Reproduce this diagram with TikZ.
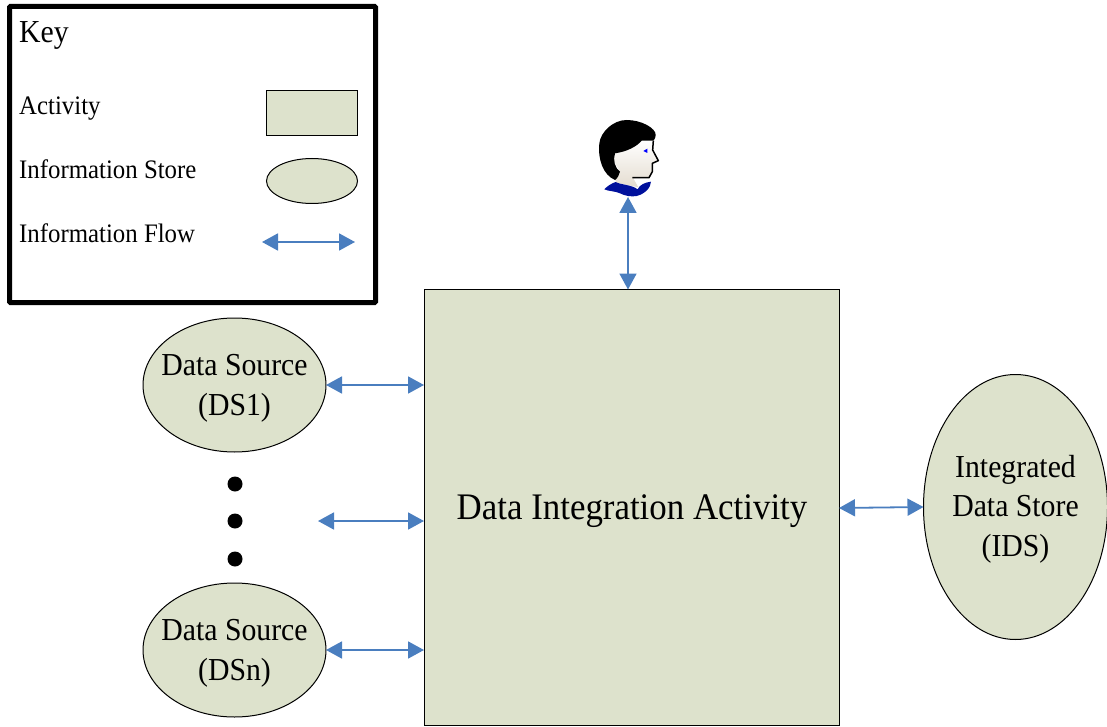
\documentclass[tikz,border=0pt]{standalone}
\usepackage{fontspec}
\setmainfont[FakeStretch=0.93]{Liberation Serif}
\usetikzlibrary{arrows.meta,shapes.geometric}
\definecolor{boxfill}{HTML}{DDE2CC}
\definecolor{flowblue}{HTML}{4A7EBF}
\definecolor{collarblue}{HTML}{00109C}
\definecolor{skintan}{HTML}{E4DCCF}
\tikzset{
  x=1pt,y=-1pt,
  activitybox/.style={draw=black,fill=boxfill,line width=1pt,rectangle,inner sep=0pt,outer sep=0pt},
  storeshape/.style={draw=black,fill=boxfill,line width=1pt,ellipse,inner sep=0pt,outer sep=0pt,align=center},
  flowarrow/.style={draw=flowblue,line width=1.8pt,{Triangle[width=17pt,length=16pt,fill=flowblue]}-{Triangle[width=17pt,length=16pt,fill=flowblue]},shorten >=0pt,shorten <=0pt},
  keylabel/.style={anchor=base west,inner sep=0pt,font=\fontsize{26.7}{30}\selectfont},
  storelabel/.style={align=center,inner sep=0pt,font=\fontsize{32}{39.5}\selectfont},
  dotmark/.style={circle,fill=black,minimum size=15pt,inner sep=0pt}
}
\begin{document}
\begin{tikzpicture}
\useasboundingbox (0,0) rectangle (1107,727);
% Key
\node[draw=black,line width=5pt,minimum width=366pt,minimum height=296pt,inner sep=0pt,outer sep=0pt,rounded corners=1pt] (keybox) at (192.5,154.5) {};
\node[keylabel,font=\fontsize{32}{36}\selectfont] (keytitle) at (19,43) {Key};
\node[keylabel] (keyact) at (19,115) {Activity};
\node[keylabel] (keystore) at (19,179) {Information Store};
\node[keylabel] (keyflow) at (19,243) {Information Flow};
\node[activitybox,minimum width=91pt,minimum height=45pt] (keyrect) at (312,113) {};
\node[storeshape,minimum width=91pt,minimum height=45pt] (keyell) at (312,181) {};
\coordinate (keyL) at (262,242);
\coordinate (keyR) at (355,242);
\draw[flowarrow] (keyL) -- (keyR);
% Main
\node[activitybox,minimum width=415pt,minimum height=436pt] (act) at (631.5,507.5) {};
\node[inner sep=0pt,font=\fontsize{37.5}{44}\selectfont] (acttext) at (632,511) {Data Integration Activity};
\node[storeshape,minimum width=183pt,minimum height=134pt] (dsone) at (234.5,385) {};
\node[storelabel] (dsonetext) at (234.5,388.5) {Data Source\\(DS1)};
\node[storeshape,minimum width=183pt,minimum height=134pt] (dsn) at (234.5,650) {};
\node[storelabel] (dsntext) at (234.5,653.5) {Data Source\\(DSn)};
\node[storeshape,minimum width=184pt,minimum height=265pt] (ids) at (1015.5,507) {};
\node[storelabel] (idstext) at (1015.5,509) {Integrated\\Data Store\\(IDS)};
\node[dotmark] (dotA) at (235,484) {};
\node[dotmark] (dotB) at (235,521) {};
\node[dotmark] (dotC) at (235,559) {};
\coordinate (midfree) at (318,521);
\coordinate (personfoot) at (628,197);
\draw[flowarrow] (dsone.east) -- (dsone.east -| act.west);
\draw[flowarrow] (midfree) -- (midfree -| act.west);
\draw[flowarrow] (dsn.east) -- (dsn.east -| act.west);
\draw[flowarrow] (act.east |- ids.west) ++(0,1) -- (ids.west);
\draw[flowarrow] (personfoot) -- (personfoot |- act.north);
% Person
\begin{scope}[shift={(570,100)},x=0.3333pt,y=-0.3333pt]
  \shade[top color=white,bottom color=skintan] (215,122) -- (250,122) -- (248,150) -- (265,182) -- (247,190) -- (247,215) -- (237,233) -- (190,235) -- (205,262) -- (140,248) -- (135,238) -- (150,215) -- (130,180) -- (135,160) -- cycle;
  \fill[black] (135,240) .. controls (100,225) and (83,180) .. (88,130) .. controls (92,95) and (130,60) .. (170,60) .. controls (215,60) and (258,85) .. (257,105) .. controls (257,115) and (250,122) .. (250,122) -- (215,122) .. controls (200,140) and (170,155) .. (135,160) .. controls (128,180) and (135,205) .. (150,215) .. controls (148,225) and (142,235) .. (135,240) -- cycle;
  \draw[black,line width=1.5pt,line join=round] (250,122) -- (248,150) -- (265,182) -- (247,190) -- (247,215) -- (237,233) -- (187,233);
  \fill[blue] (220,153) -- (232,146) -- (232,159) -- cycle;
  \fill[collarblue] (103,268) .. controls (112,258) and (125,250) .. (137,246) .. controls (150,254) and (185,254) .. (203,268) .. controls (208,255) and (225,247) .. (243,245) .. controls (243,262) and (225,282) .. (200,288) .. controls (185,291) and (165,288) .. (150,280) .. controls (135,273) and (115,274) .. (103,268) -- cycle;
\end{scope}
\end{tikzpicture}
\end{document}
